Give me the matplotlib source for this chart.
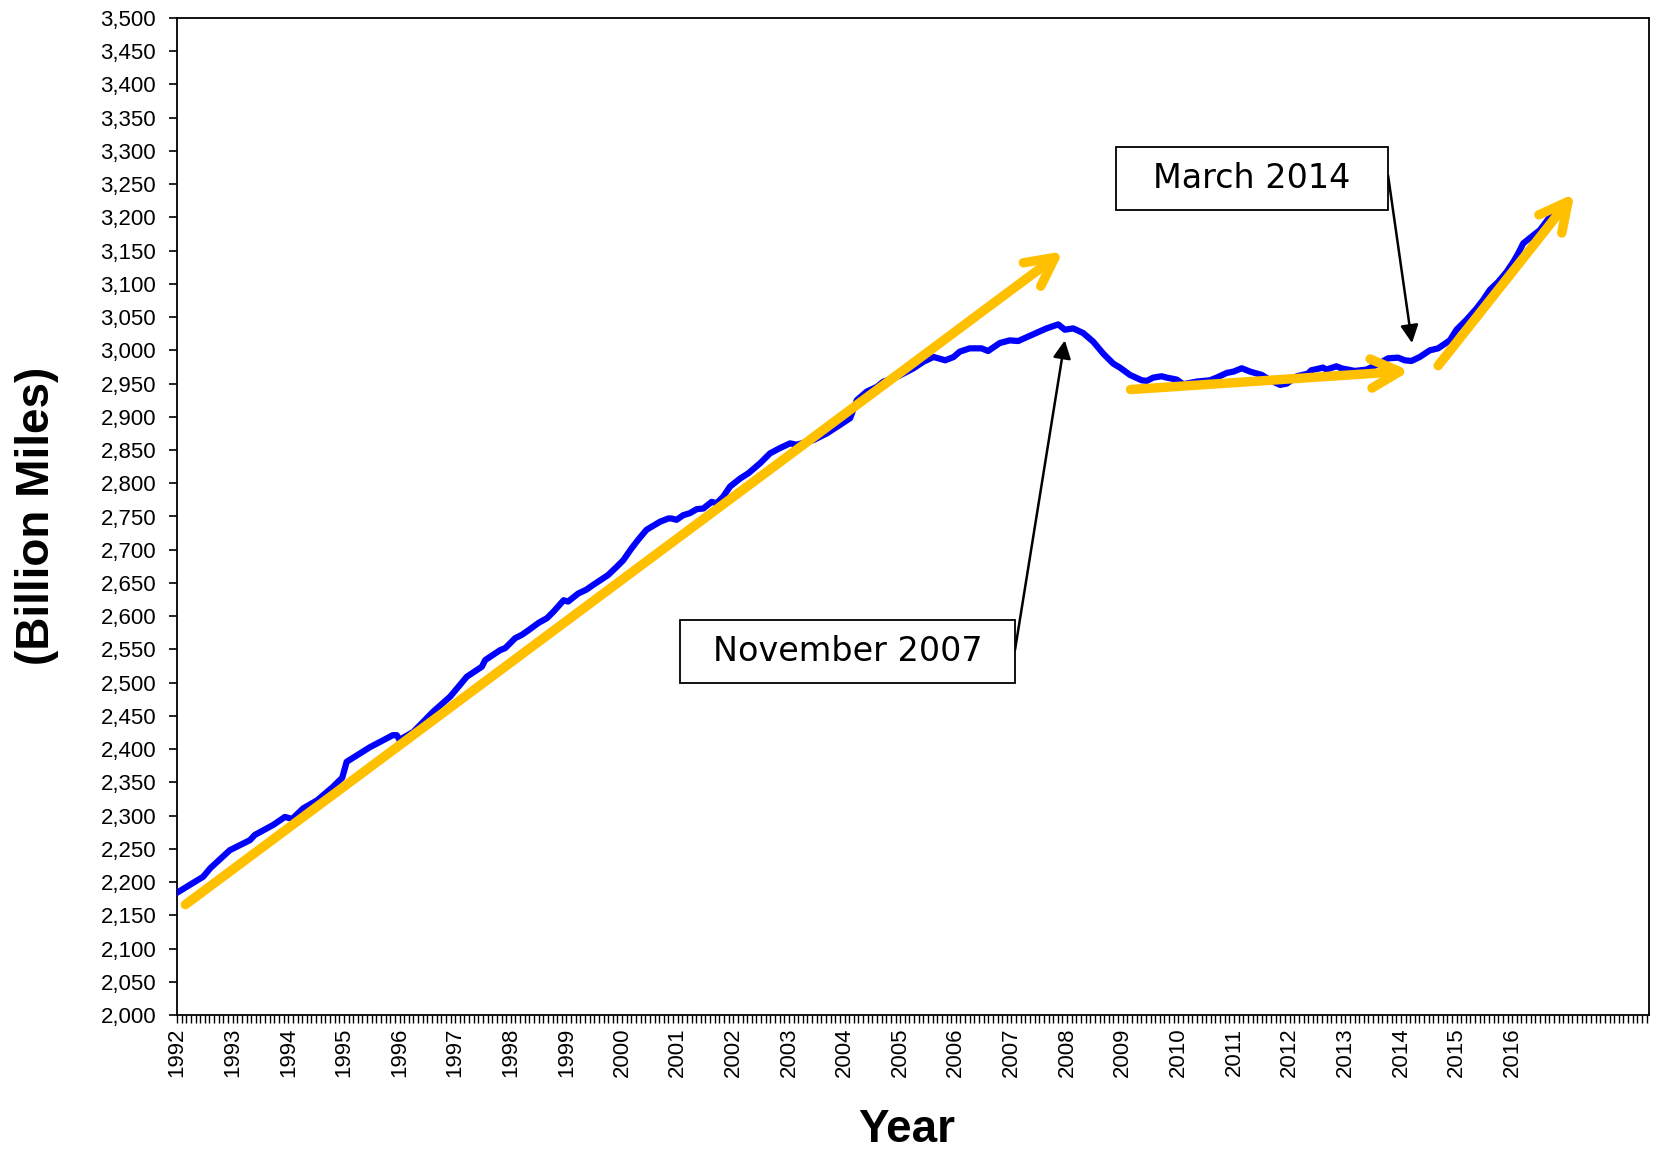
import matplotlib
matplotlib.use("Agg")
import matplotlib.pyplot as plt
from matplotlib.patches import FancyArrowPatch, Rectangle
from matplotlib.ticker import FixedLocator, MultipleLocator, FuncFormatter

# 12-month moving total of vehicle miles travelled
years = [1992.00, 1992.47, 1992.60, 1992.95, 1993.31, 1993.40, 1993.73, 1993.94, 1994.07, 1994.27,
         1994.52, 1994.80, 1994.97, 1995.05, 1995.24, 1995.47, 1995.88, 1995.95, 1996.00, 1996.25,
         1996.60, 1996.91, 1997.21, 1997.48, 1997.54, 1997.81, 1997.90, 1998.08, 1998.20, 1998.32,
         1998.50, 1998.65, 1998.77, 1998.95, 1999.03, 1999.21, 1999.36, 1999.48, 1999.75, 1999.90,
         2000.02, 2000.17, 2000.29, 2000.44, 2000.56, 2000.68, 2000.83, 2000.89, 2000.98, 2001.10,
         2001.22, 2001.34, 2001.46, 2001.61, 2001.70, 2001.82, 2001.94, 2002.12, 2002.27, 2002.48,
         2002.66, 2002.84, 2003.02, 2003.14, 2003.44, 2003.68, 2003.92, 2004.10, 2004.22, 2004.40,
         2004.58, 2004.70, 2004.94, 2005.24, 2005.42, 2005.60, 2005.81, 2005.96, 2006.07, 2006.25,
         2006.46, 2006.58, 2006.79, 2006.97, 2007.12, 2007.39, 2007.63, 2007.84, 2007.96, 2008.11,
         2008.29, 2008.47, 2008.65, 2008.83, 2008.95, 2009.13, 2009.34, 2009.43, 2009.55, 2009.70,
         2009.79, 2009.97, 2010.09, 2010.33, 2010.57, 2010.69, 2010.87, 2010.99, 2011.14, 2011.29,
         2011.50, 2011.65, 2011.83, 2011.95, 2012.13, 2012.33, 2012.39, 2012.60, 2012.66, 2012.84,
         2012.93, 2013.17, 2013.38, 2013.56, 2013.77, 2013.95, 2014.07, 2014.19, 2014.34, 2014.52,
         2014.67, 2014.88, 2015.00, 2015.18, 2015.36, 2015.48, 2015.60, 2015.75, 2015.90, 2016.02,
         2016.11, 2016.20, 2016.35, 2016.50, 2016.59, 2016.68]
miles = [2184, 2208, 2221, 2248, 2263, 2271, 2286, 2298, 2295, 2311,
         2323, 2343, 2357, 2381, 2391, 2403, 2421, 2421, 2414, 2426,
         2456, 2479, 2509, 2524, 2534, 2549, 2552, 2567, 2572, 2579,
         2590, 2597, 2607, 2624, 2622, 2634, 2640, 2647, 2662, 2674,
         2684, 2702, 2715, 2730, 2736, 2742, 2747, 2747, 2745, 2752,
         2755, 2761, 2762, 2772, 2770, 2780, 2795, 2807, 2815, 2830,
         2845, 2853, 2860, 2858, 2865, 2875, 2888, 2898, 2925, 2938,
         2945, 2953, 2960, 2973, 2983, 2990, 2985, 2990, 2998, 3003,
         3003, 2999, 3011, 3015, 3014, 3024, 3033, 3039, 3031, 3033,
         3026, 3013, 2995, 2980, 2974, 2963, 2955, 2954, 2959, 2961,
         2959, 2956, 2949, 2953, 2955, 2959, 2966, 2968, 2973, 2968,
         2963, 2955, 2948, 2950, 2961, 2965, 2970, 2974, 2971, 2976,
         2973, 2969, 2971, 2978, 2988, 2989, 2985, 2984, 2990, 3000,
         3003, 3015, 3031, 3046, 3063, 3076, 3091, 3103, 3118, 3133,
         3146, 3161, 3171, 3181, 3191, 3201]

year_labels = list(range(1992, 2017))

# trend arrows (start year, start value, end year, end value)
trend_x0 = [1992.15, 2009.14, 2014.67]
trend_y0 = [2166, 2941, 2977]
trend_x1 = [2007.93, 2014.16, 2017.12]
trend_y1 = [3149, 2969, 3236]

# callouts
notes = ["November 2007", "March 2014"]
note_tip_x = [2007.96, 2014.20]
note_tip_y = [3015, 3011]

plt.rcParams['font.family'] = ['Liberation Sans', 'DejaVu Sans']

W, H = 1663, 1152
fig = plt.figure(figsize=(W / 100, H / 100), dpi=100)
ax = fig.add_axes([177 / W, 1 - 1015 / H, (1649 - 177) / W, (1015 - 18) / H])

ax.plot(years, miles, color='#0000FF', lw=4.5, solid_joinstyle='round', zorder=3)

for x0, y0, x1, y1 in zip(trend_x0, trend_y0, trend_x1, trend_y1):
    arr = FancyArrowPatch((x0, y0), (x1, y1),
                          arrowstyle='->,head_length=2.05,head_width=1.05',
                          mutation_scale=10, color='#FFC000', lw=6.8,
                          capstyle='round', joinstyle='round',
                          shrinkA=0, shrinkB=0, zorder=4)
    ax.add_patch(arr)

ax.set_xlim(1992, 2018.46)
ax.set_ylim(2000, 3500)
ax.yaxis.set_major_locator(MultipleLocator(50))
ax.yaxis.set_major_formatter(FuncFormatter(lambda v, p: f'{int(v):,}'))
ax.xaxis.set_major_locator(FixedLocator(year_labels))
ax.xaxis.set_minor_locator(MultipleLocator(1 / 12))
ax.set_xticklabels([str(y) for y in year_labels], rotation=90, va='top', ha='center')
ax.tick_params(axis='y', length=6, width=1.2, labelsize=16, pad=9, direction='out')
ax.tick_params(axis='x', which='both', length=6, width=1, direction='out')
ax.tick_params(axis='x', which='major', labelsize=16, pad=3)
for s in ax.spines.values():
    s.set_linewidth(1.3)
    s.set_color('black')

fig.text(37 / W, 1 - 516 / H, '(Billion Miles)', rotation=90, ha='center', va='center',
         fontsize=33, fontweight='bold')
fig.text(907 / W, 1 - 1130 / H, 'Year', ha='center', va='center',
         fontsize=33, fontweight='bold')

# callout boxes (pixel boxes) and their arrows
boxes = [(680, 620, 1015, 683), (1116, 147, 1388, 210)]
starts = [(1015, 650), (1388, 175)]
for text, (bx0, by0, bx1, by1), (sx, sy), tx, ty in zip(notes, boxes, starts, note_tip_x, note_tip_y):
    rect = Rectangle((bx0 / W, 1 - by1 / H), (bx1 - bx0) / W, (by1 - by0) / H,
                     transform=fig.transFigure, fc='white', ec='black', lw=1.3, zorder=5)
    fig.patches.append(rect)
    fig.text((bx0 + bx1) / 2 / W, 1 - (by0 + by1) / 2 / H, text, ha='center', va='center',
             fontsize=24, family='DejaVu Sans', zorder=6)
    ax.annotate('', xy=(tx, ty), xycoords='data',
                xytext=(sx / W, 1 - sy / H), textcoords='figure fraction',
                arrowprops=dict(arrowstyle='-|>', lw=1.8, color='black',
                                mutation_scale=27, shrinkA=0, shrinkB=0))

fig.savefig('out.png', dpi=100)
